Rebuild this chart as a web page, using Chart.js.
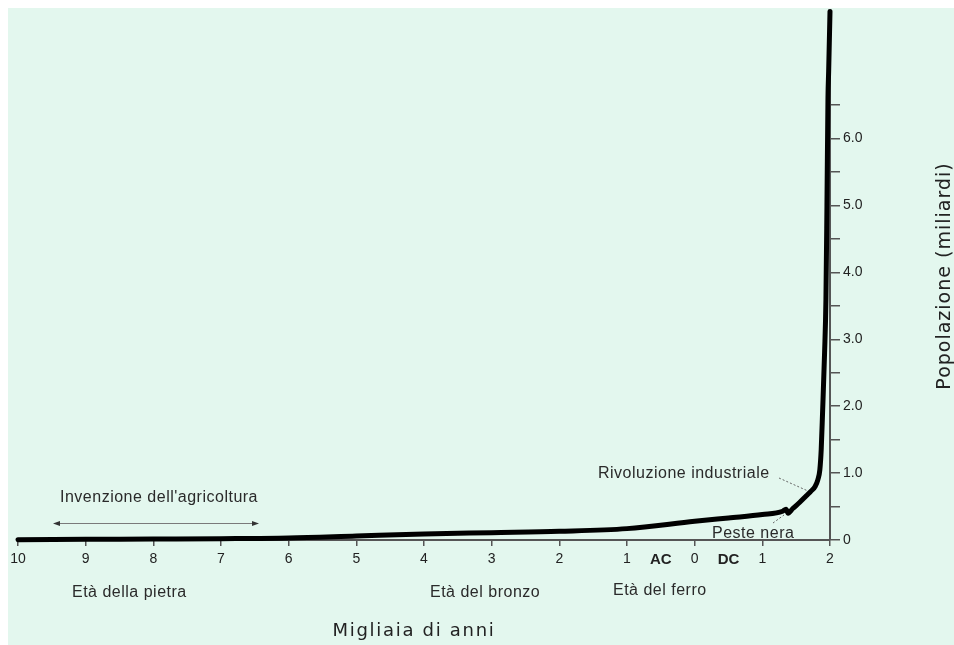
<!DOCTYPE html>
<html>
<head>
<meta charset="utf-8">
<script src="https://cdn.jsdelivr.net/npm/chart.js@4.4.1/dist/chart.umd.min.js"></script>
<style>
  html, body { margin: 0; padding: 0; background: #ffffff; }
  #wrap { width: 954px; height: 645px; position: relative; }
  canvas { display: block; }
</style>
</head>
<body>
<div id="wrap"><canvas id="c" width="954" height="645"></canvas></div>
<script>
// Thousands of years (negative = BC / AC, positive = AD / DC)
const years = [-10, -9, -8, -7, -6, -5, -4, -3, -2, -1, 0, 0.5, 1, 1.3, 1.35, 1.38, 1.45, 1.55, 1.65, 1.72, 1.78, 1.82, 1.85, 1.87, 1.89, 1.92, 1.94, 1.955, 1.97, 1.98, 2.0];
// World population (billions)
const population = [0.005, 0.01, 0.015, 0.02, 0.03, 0.06, 0.09, 0.11, 0.13, 0.17, 0.28, 0.33, 0.38, 0.43, 0.46, 0.40, 0.47, 0.56, 0.66, 0.73, 0.80, 0.9, 1.05, 1.35, 1.9, 2.8, 3.6, 5.0, 6.6, 7.0, 7.9];

const xTickValues = [-10, -9, -8, -7, -6, -5, -4, -3, -2, -1, -0.5, 0, 0.5, 1, 2];
const eraLabels = { '-0.5': 'AC', '0.5': 'DC' };
const yTickValues = [0, 0.5, 1, 1.5, 2, 2.5, 3, 3.5, 4, 4.5, 5, 5.5, 6, 6.5];

const xTitle = 'Migliaia di anni';
const yTitle = 'Popolazione (miliardi)';
const notes = {
  agricoltura: "Invenzione dell'agricoltura",
  pietra: 'Età della pietra',
  bronzo: 'Età del bronzo',
  ferro: 'Età del ferro',
  rivoluzione: 'Rivoluzione industriale',
  peste: 'Peste nera'
};

const points = years.map((x, i) => ({ x: x, y: population[i] }));

const bgPlugin = {
  id: 'bg',
  beforeDraw(chart) {
    const ctx = chart.ctx;
    ctx.save();
    ctx.fillStyle = '#ffffff';
    ctx.fillRect(0, 0, chart.width, chart.height);
    ctx.fillStyle = '#e3f7ee';
    ctx.fillRect(8, 8, chart.width - 8, chart.height - 8);
    ctx.restore();
  }
};

function text(ctx, str, x, y, font, color, spacing) {
  ctx.font = font;
  ctx.fillStyle = color;
  if ('letterSpacing' in ctx) ctx.letterSpacing = (spacing || 0) + 'px';
  ctx.fillText(str, x, y);
  if ('letterSpacing' in ctx) ctx.letterSpacing = '0px';
}

const notesPlugin = {
  id: 'notes',
  afterDraw(chart) {
    const ctx = chart.ctx;
    const f16 = '16px "Liberation Sans", Arial, sans-serif';
    const col = '#2a2a2a';
    ctx.save();
    ctx.textAlign = 'left';
    ctx.textBaseline = 'alphabetic';
    text(ctx, notes.agricoltura, 60, 502, f16, col, 0.5);
    text(ctx, notes.pietra, 72, 597, f16, col, 0.5);
    text(ctx, notes.bronzo, 430, 597, f16, col, 0.5);
    text(ctx, notes.ferro, 613, 595, f16, col, 0.5);
    text(ctx, notes.rivoluzione, 598, 478, f16, col, 0.5);
    text(ctx, notes.peste, 712, 538, f16, col, 0.5);

    // double arrow
    ctx.strokeStyle = '#7a7a7a';
    ctx.lineWidth = 1;
    ctx.beginPath();
    ctx.moveTo(56, 523.5);
    ctx.lineTo(256, 523.5);
    ctx.stroke();
    ctx.fillStyle = '#333333';
    ctx.beginPath();
    ctx.moveTo(53, 523.5); ctx.lineTo(60, 521); ctx.lineTo(60, 526); ctx.closePath(); ctx.fill();
    ctx.beginPath();
    ctx.moveTo(259, 523.5); ctx.lineTo(252, 521); ctx.lineTo(252, 526); ctx.closePath(); ctx.fill();

    // leader lines
    ctx.strokeStyle = '#666666';
    ctx.setLineDash([2, 2]);
    ctx.beginPath();
    ctx.moveTo(779, 478); ctx.lineTo(808, 491);
    ctx.stroke();
    ctx.beginPath();
    ctx.moveTo(773, 523); ctx.lineTo(784, 515);
    ctx.stroke();
    ctx.setLineDash([]);

    // axis titles
    ctx.textAlign = 'center';
    text(ctx, xTitle, 414, 636, '18px "DejaVu Sans", Verdana, sans-serif', '#222222', 1.7);
    ctx.translate(950, 276);
    ctx.rotate(-Math.PI / 2);
    text(ctx, yTitle, 0, 0, '19px "DejaVu Sans", Verdana, sans-serif', '#222222', 1.0);
    ctx.restore();
  }
};

const isEra = v => Math.abs(Math.abs(v) - 0.5) < 1e-9;

new Chart(document.getElementById('c'), {
  type: 'line',
  data: {
    datasets: [{
      data: points,
      borderColor: '#000000',
      borderWidth: 5,
      pointRadius: 0,
      cubicInterpolationMode: 'monotone',
      borderCapStyle: 'round',
      borderJoinStyle: 'round',
      fill: false,
      clip: false
    }]
  },
  options: {
    responsive: false,
    devicePixelRatio: 1,
    animation: false,
    layout: { padding: { left: 18, top: 11, right: 0, bottom: 0 } },
    plugins: { legend: { display: false }, tooltip: { enabled: false } },
    scales: {
      x: {
        type: 'linear',
        position: 'bottom',
        min: -10,
        max: 2,
        afterBuildTicks: s => { s.ticks = xTickValues.map(v => ({ value: v })); },
        afterFit: s => { s.height = 105; },
        grid: {
          drawOnChartArea: false,
          drawTicks: true,
          tickLength: 6,
          tickColor: c => (c.tick && isEra(c.tick.value)) ? 'rgba(0,0,0,0)' : '#555555',
          color: '#555555',
          lineWidth: 1.5
        },
        border: { display: true, color: '#555555', width: 2 },
        ticks: {
          autoSkip: false,
          maxRotation: 0,
          padding: 5,
          color: '#222222',
          font: c => (c.tick && isEra(c.tick.value))
            ? { family: '"Liberation Sans", Arial, sans-serif', size: 15, weight: 'bold' }
            : { family: '"Liberation Sans", Arial, sans-serif', size: 14 },
          callback: v => eraLabels[String(v)] || String(Math.abs(v))
        }
      },
      y: {
        type: 'linear',
        position: 'right',
        min: 0,
        max: 7.9,
        afterBuildTicks: s => { s.ticks = yTickValues.map(v => ({ value: v })); },
        afterFit: s => { s.width = 124; },
        grid: {
          drawOnChartArea: false,
          drawTicks: true,
          tickLength: 10,
          tickColor: '#555555',
          color: '#555555',
          lineWidth: 1.5
        },
        border: { display: true, color: '#555555', width: 2 },
        ticks: {
          padding: 3,
          color: '#222222',
          font: { family: '"Liberation Sans", Arial, sans-serif', size: 14 },
          callback: v => v === 0 ? '0' : (Number.isInteger(v) ? v.toFixed(1) : '')
        }
      }
    }
  },
  plugins: [bgPlugin, notesPlugin]
});
</script>
</body>
</html>
